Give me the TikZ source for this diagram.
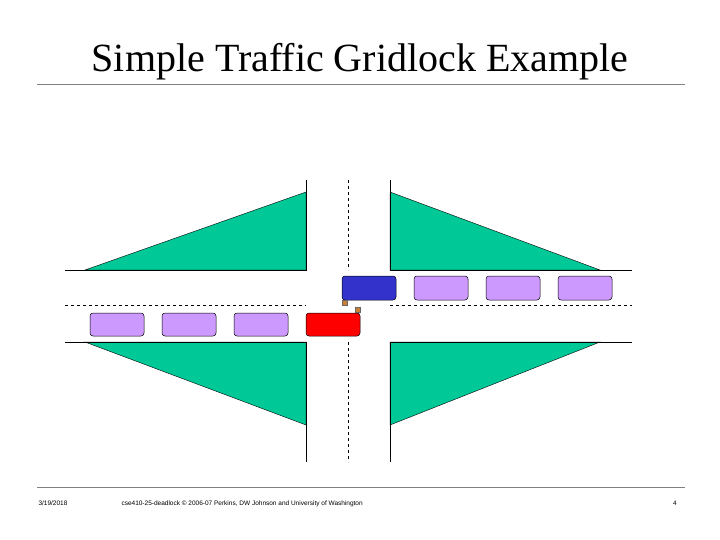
\documentclass[tikz,border=0pt]{standalone}
\usepackage{fontspec}
\setmainfont{Liberation Serif}
\newfontfamily\footfont{Liberation Sans}
\begin{document}
\begin{tikzpicture}[x=1pt,y=-1pt,
  road/.style={draw=black,line width=0.6pt},
  cen/.style={draw=black,dashed,line width=0.6pt},
  car/.style={draw=black,rounded corners=3pt,line width=0.5pt},
  rule/.style={draw=gray,line width=0.8pt},
  ft/.style={font=\footfont\fontsize{6.5}{7}\selectfont,anchor=base}]
\definecolor{grn}{RGB}{0,200,150}
\definecolor{pur}{RGB}{204,153,255}
\definecolor{blu}{RGB}{51,51,204}
\useasboundingbox (0,0) rectangle (720,540);
\node[font=\fontsize{40}{44}\selectfont] (title) at (360,62) {Simple Traffic Gridlock Example};
\draw[rule] (37,84) -- (685,84);
\draw[rule] (37,487) -- (685,487);
\fill[grn,draw=black] (306,192) -- (306,270) -- (85,270) -- cycle;
\fill[grn,draw=black] (390,192) -- (390,270) -- (600,270) -- cycle;
\fill[grn,draw=black] (85,342) -- (306,342) -- (306,425) -- cycle;
\fill[grn,draw=black] (390,342) -- (600,342) -- (390,425) -- cycle;
\draw[road] (306,180) -- (306,270) -- (65,270);
\draw[road] (390,180) -- (390,270) -- (632,270);
\draw[road] (306,462) -- (306,342) -- (65,342);
\draw[road] (390,462) -- (390,342) -- (632,342);
\draw[cen] (65,305) -- (306,305);
\draw[cen] (390,305) -- (632,305);
\draw[cen] (348,180) -- (348,270);
\draw[cen] (348,342) -- (348,462);
\foreach \x in {414,486,558} \draw[car,fill=pur] (\x,276) rectangle (\x+54,300);
\foreach \x in {90,162,234} \draw[car,fill=pur] (\x,313) rectangle (\x+54,336);
\draw[car,fill=blu] (342,276) rectangle (396,300);
\draw[car,fill=red] (306,313) rectangle (360,336);
\draw[fill=brown!80!orange,draw=black!60] (342,300) rectangle (347,305);
\draw[fill=brown!80!orange,draw=black!60] (355,307) rectangle (360,312);
\node[ft] (d) at (53,505) {3/19/2018};
\node[ft,anchor=base west] (f) at (118,505) {cse410-25-deadlock \textcopyright\ 2006-07 Perkins, DW Johnson and University of Washington};
\node[ft] (p) at (675,505) {4};
\end{tikzpicture}
\end{document}
